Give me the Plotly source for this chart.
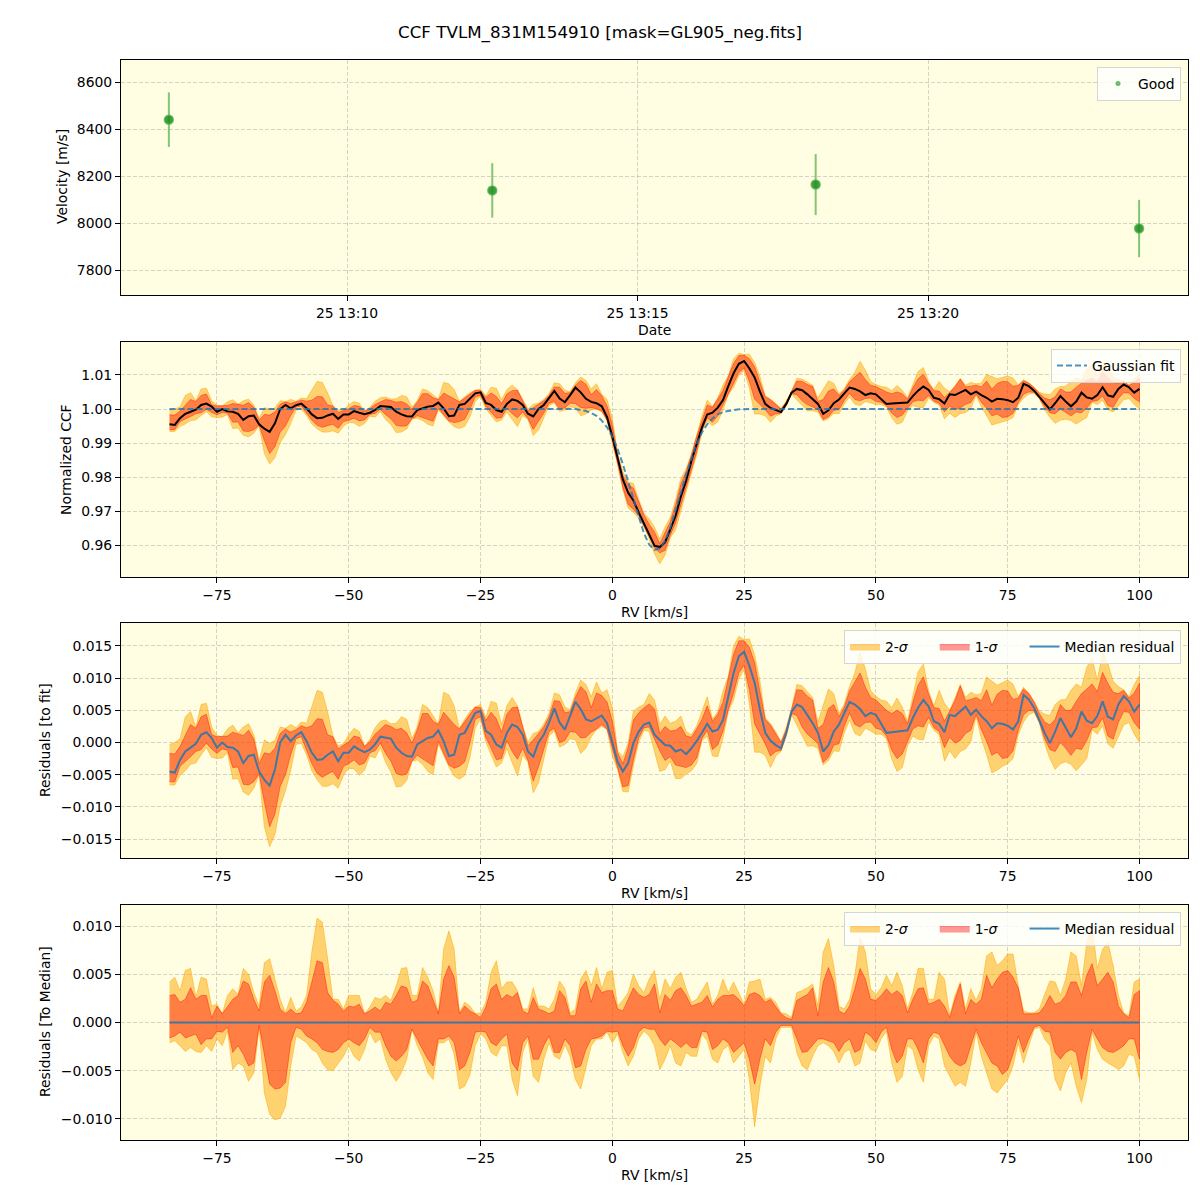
import plotly.graph_objects as go

# ---------------- data ----------------
obs_times = ["2023-11-25 13:06:56", "2023-11-25 13:12:30", "2023-11-25 13:18:04", "2023-11-25 13:23:38"]
obs_velocity = [8440, 8139, 8164, 7977]
obs_velocity_err = [116, 116, 130, 122]

rv_kms = list(range(-84, 101))

# Gaussian fit (normalized CCF)
gauss_fit = [1.0] * 78 + [
    0.9997, 0.9994, 0.9988, 0.9980, 0.9966, 0.9946, 0.9919, 0.9882, 0.9838, 0.9786,
    0.9732, 0.9679, 0.9634, 0.9601, 0.9586, 0.9590, 0.9612, 0.9651, 0.9700, 0.9754,
    0.9807, 0.9856, 0.9898, 0.9931, 0.9955, 0.9972, 0.9984, 0.9991, 0.9995, 0.9997,
    0.9999] + [1.0] * 76

# median residual to the fit (x 1e-3)
median_resid = [
    -4.5, -4.7, -2.7, -1.4, -0.8, -0.2, 1.2, 1.6, 0.7, -0.8,
    0.0, -0.7, -0.8, -1.4, -3.2, -2.1, -1.9, -4.5, -5.8, -6.7,
    -4.2, 0.0, 1.2, 0.2, 1.1, 1.6, 0.2, -1.6, -2.7, -2.6,
    -1.9, -1.4, -2.9, -1.6, -1.6, -0.6, -1.1, -1.5, -1.1, -0.3,
    0.9, 0.7, 0.6, -0.8, -1.6, -2.1, -2.2, -0.3, 0.2, 0.7,
    0.9, 1.9, 0.2, -2.1, -1.9, 1.2, 1.5, 3.1, 4.6, 4.9,
    1.8, 1.2, -0.3, -0.8, 1.5, 2.8, 2.4, 1.2, -1.4, -2.2,
    0.0, 1.2, 3.1, 5.3, 3.1, 2.0, 4.1, 6.3, 5.2, 3.6,
    3.3, 3.7, 4.2, 3.0, 0.0, -3.0, -4.5, -3.2, -0.1, 1.7,
    2.8, 3.1, 1.2, 0.4, -0.4, -0.5, -1.4, -1.1, -1.8, -0.9,
    0.2, 1.5, 2.9, 1.7, 2.0, 3.5, 7.2, 10.8, 13.4, 14.1,
    11.9, 9.3, 5.1, 1.5, 0.3, -0.4, -0.9, 1.5, 4.8, 5.9,
    5.5, 4.3, 3.0, 1.5, -1.4, -0.4, 1.7, 2.8, 4.6, 6.3,
    5.9, 5.2, 4.1, 4.6, 4.3, 3.0, 1.5, 1.6, 1.7, 1.7,
    1.9, 3.8, 5.4, 6.6, 5.6, 3.3, 2.9, 1.6, 4.3, 4.1,
    4.8, 5.6, 4.3, 5.1, 4.1, 3.3, 2.2, 3.0, 2.9, 2.6,
    2.0, 3.3, 7.4, 6.7, 5.4, 3.5, 1.5, -0.1, 1.7, 3.8,
    2.2, 0.8, 2.2, 4.8, 3.4, 3.0, 4.1, 6.4, 4.0, 3.6,
    5.9, 7.2, 6.4, 4.8, 5.9]

# percentile offsets relative to the median (x 1e-3)
upper_2sig = [
    4.2, 4.7, 3.3, 5.4, 5.6, 2.6, 4.7, 4.5, 1.7, 1.9,
    0.9, 2.8, 3.5, 2.9, 5.6, 5.0, 3.1, 1.7, 6.2, 6.6,
    4.5, 2.4, 1.0, 2.6, 1.2, 1.6, 2.8, 7.3, 10.8, 10.4,
    6.6, 2.4, 2.4, 1.4, 2.8, 2.8, 2.8, 0.9, 1.6, 2.6,
    2.4, 2.8, 2.3, 3.8, 5.6, 5.7, 2.8, 2.8, 5.7, 4.7,
    3.3, 1.0, 7.6, 9.5, 7.6, 1.0, 2.1, 1.7, 0.9, 1.0,
    2.1, 5.2, 6.4, 3.5, 4.2, 4.2, 3.3, 1.4, 1.4, 3.6,
    1.7, 1.7, 1.4, 2.4, 4.3, 3.5, 1.0, 1.4, 4.5, 5.4,
    3.8, 5.7, 3.5, 5.2, 5.4, 1.7, 2.3, 3.1, 5.0, 3.8,
    3.1, 4.5, 5.4, 2.4, 4.5, 3.5, 4.7, 5.2, 3.5, 2.1,
    2.4, 3.3, 4.2, 1.9, 2.8, 4.5, 3.1, 4.2, 3.1, 1.9,
    4.2, 4.3, 4.5, 2.4, 2.6, 2.1, 1.0, 0.9, 0.5, 3.1,
    3.3, 3.6, 4.0, 1.7, 7.3, 8.7, 5.9, 1.7, 1.4, 2.4,
    4.9, 8.8, 7.3, 3.5, 2.9, 3.6, 4.9, 3.8, 5.2, 3.8,
    1.4, 3.1, 5.6, 5.6, 2.4, 2.4, 5.2, 4.5, 0.7, 2.8,
    4.2, 1.4, 3.5, 2.3, 3.5, 6.9, 7.3, 5.9, 6.4, 7.1,
    7.1, 3.8, 1.2, 1.0, 1.0, 1.4, 2.9, 4.3, 4.2, 2.8,
    4.5, 7.3, 6.9, 3.8, 8.3, 10.1, 5.6, 7.6, 8.3, 5.9,
    2.8, 1.0, 0.7, 4.2, 4.5]

upper_1sig = [
    2.8, 2.9, 2.1, 2.4, 3.6, 2.4, 2.8, 2.8, 0.5, 1.7,
    0.9, 1.7, 2.4, 2.8, 4.3, 4.0, 2.4, 1.2, 4.2, 4.9,
    3.3, 1.4, 0.9, 1.4, 0.9, 1.0, 2.1, 4.2, 6.4, 6.2,
    3.1, 2.3, 1.9, 1.2, 1.7, 1.6, 1.9, 0.9, 1.2, 1.6,
    1.2, 2.1, 1.9, 2.8, 3.8, 3.6, 2.1, 2.3, 4.3, 3.8,
    2.4, 0.9, 4.5, 5.9, 4.7, 0.9, 1.7, 1.2, 0.9, 0.5,
    1.6, 3.5, 4.0, 2.4, 2.9, 2.6, 3.1, 1.2, 0.9, 2.6,
    1.4, 1.2, 0.9, 1.2, 3.3, 2.6, 0.7, 0.7, 3.5, 4.3,
    2.1, 4.0, 3.1, 3.3, 3.3, 1.4, 1.2, 2.4, 3.6, 2.9,
    2.6, 2.9, 4.0, 1.0, 2.9, 2.3, 3.3, 3.6, 2.8, 1.7,
    1.9, 2.1, 2.8, 1.6, 2.4, 2.8, 2.8, 2.9, 2.4, 1.7,
    2.9, 3.1, 2.8, 2.1, 2.4, 1.7, 0.9, 0.5, 0.3, 2.3,
    2.6, 2.9, 3.6, 0.7, 4.2, 5.7, 4.2, 1.2, 0.9, 1.7,
    3.5, 5.6, 4.5, 2.4, 2.3, 2.8, 3.5, 2.9, 3.3, 2.8,
    1.0, 2.4, 3.5, 3.6, 1.9, 2.1, 2.4, 1.7, 0.5, 2.4,
    4.0, 0.9, 2.4, 1.9, 2.4, 4.9, 3.6, 4.5, 5.2, 5.4,
    4.7, 3.6, 0.9, 0.9, 0.9, 1.0, 1.7, 2.8, 1.9, 2.1,
    2.8, 4.2, 4.2, 2.8, 4.9, 6.1, 3.8, 4.5, 5.2, 4.2,
    1.7, 0.9, 0.5, 2.9, 3.3]

lower_1sig = [
    -1.6, -1.4, -1.0, -1.6, -1.4, -1.2, -2.3, -1.7, -1.7, -0.9,
    -1.0, -0.5, -3.1, -2.4, -3.3, -4.5, -4.2, -0.3, -3.5, -6.4,
    -6.9, -6.8, -6.2, -2.1, -0.5, -0.7, -1.4, -1.7, -2.1, -2.8,
    -3.0, -3.1, -2.8, -2.1, -1.7, -2.1, -2.4, -1.7, -0.5, -1.0,
    -1.0, -2.4, -3.5, -4.0, -3.5, -2.8, -0.7, -1.7, -2.8, -3.8,
    -4.5, -1.7, -1.7, -1.4, -2.1, -4.9, -4.5, -3.1, -1.0, -0.9,
    -1.0, -2.1, -2.4, -1.7, -1.2, -4.2, -5.0, -2.1, -1.4, -3.8,
    -3.8, -2.4, -1.4, -3.1, -3.1, -1.7, -2.4, -4.7, -4.5, -2.8,
    -1.7, -1.6, -1.4, -0.9, -1.0, -0.9, -2.4, -3.5, -2.6, -1.0,
    -0.5, -0.7, -0.7, -1.7, -2.4, -1.7, -2.1, -2.6, -2.1, -2.6,
    -2.6, -0.9, -1.0, -2.8, -2.4, -1.7, -2.1, -3.1, -2.6, -2.1,
    -3.8, -6.4, -3.8, -1.7, -2.4, -1.0, -0.3, -0.3, -0.3, -1.7,
    -3.1, -3.0, -2.4, -1.7, -1.7, -1.9, -2.1, -3.0, -2.1, -1.7,
    -3.1, -2.8, -1.0, -1.4, -2.1, -1.0, -0.5, -2.8, -4.2, -3.5,
    -1.7, -1.7, -2.8, -4.2, -1.7, -1.0, -1.2, -2.4, -3.5, -4.2,
    -4.5, -4.2, -2.4, -0.7, -2.1, -3.1, -4.2, -4.5, -5.4, -4.9,
    -3.3, -1.4, -3.1, -1.7, -0.5, -0.3, -0.9, -1.0, -3.1, -3.8,
    -3.1, -2.8, -3.1, -5.9, -3.1, -0.7, -1.7, -2.6, -3.0, -3.1,
    -2.8, -2.4, -1.7, -1.7, -3.8]

lower_2sig = [
    -2.1, -1.9, -2.4, -3.0, -2.6, -3.0, -3.1, -2.4, -3.0, -1.7,
    -2.4, -0.9, -4.9, -4.2, -4.5, -6.1, -5.2, -0.5, -7.3, -9.5,
    -10.1, -9.9, -8.7, -4.5, -1.4, -1.7, -2.1, -2.8, -3.1, -4.2,
    -4.9, -5.0, -4.2, -3.5, -2.4, -3.5, -4.0, -2.8, -1.0, -2.1,
    -1.7, -3.8, -5.2, -6.1, -5.2, -3.8, -0.7, -2.4, -3.6, -5.2,
    -5.9, -2.1, -2.1, -1.7, -3.3, -6.9, -6.6, -5.4, -2.4, -1.2,
    -1.7, -3.1, -3.5, -2.4, -2.4, -5.9, -7.6, -3.1, -1.7, -5.6,
    -6.2, -3.8, -2.1, -3.5, -3.8, -2.3, -3.5, -5.9, -6.9, -4.5,
    -2.4, -1.7, -1.7, -1.0, -2.1, -1.2, -3.1, -4.5, -3.5, -1.7,
    -0.9, -1.4, -2.4, -4.9, -3.8, -2.4, -4.2, -4.5, -3.1, -3.5,
    -3.5, -1.2, -1.9, -3.8, -4.2, -2.8, -2.4, -4.2, -3.5, -2.8,
    -5.9, -10.8, -6.6, -3.5, -4.2, -1.7, -0.5, -0.5, -0.5, -3.1,
    -4.5, -4.9, -3.5, -2.4, -2.1, -2.4, -3.0, -4.2, -3.1, -2.8,
    -4.5, -4.2, -1.9, -2.8, -3.0, -1.7, -0.9, -4.2, -6.2, -5.6,
    -2.4, -2.8, -4.9, -6.2, -2.4, -1.4, -1.7, -4.5, -5.6, -6.6,
    -6.2, -6.6, -4.2, -1.0, -3.5, -5.2, -6.9, -7.3, -6.6, -5.9,
    -4.5, -2.1, -4.2, -2.4, -0.7, -0.5, -1.7, -2.4, -5.9, -7.1,
    -5.2, -4.2, -6.6, -8.3, -5.9, -1.0, -2.8, -3.8, -4.2, -4.5,
    -4.9, -4.5, -3.3, -3.5, -5.9]

rv_ticks = [-75, -50, -25, 0, 25, 50, 75, 100]

# ---------------- derived series ----------------
S = 1e-3
med = [m * S for m in median_resid]
p2hi = [m * S + o * S for m, o in zip(median_resid, upper_2sig)]
p1hi = [m * S + o * S for m, o in zip(median_resid, upper_1sig)]
p1lo = [m * S + o * S for m, o in zip(median_resid, lower_1sig)]
p2lo = [m * S + o * S for m, o in zip(median_resid, lower_2sig)]
ccf_med = [g + m for g, m in zip(gauss_fit, med)]

FONT = "DejaVu Sans"
FS = 13.9
C2 = "rgba(255,165,0,0.5)"
C1 = "rgba(255,0,0,0.4)"
BLUE = "rgba(31,119,180,0.85)"
BG = "#FFFEE2"
PAD = "\u00a0" * 5

# page offset of the plot inside the browser (body margin)
OFF = 8
W = 1192.0


def px_x(X):
    return (X - OFF) / W


def px_y(Y):
    return 1 - (Y - OFF) / W


def minus(v, fmt):
    return fmt.format(v).replace("-", "\u2212")


fig = go.Figure()


def band(xa, ya, lo, hi, color, name, legend, show):
    fig.add_trace(go.Scatter(
        x=rv_kms + rv_kms[::-1], y=hi + lo[::-1], fill="toself", fillcolor=color,
        line=dict(color=color, width=1), mode="lines", name=name,
        xaxis=xa, yaxis=ya, legend=legend, showlegend=show, hoverinfo="skip"))


# Panel 1: velocities
fig.add_trace(go.Scatter(
    x=obs_times, y=obs_velocity, mode="markers", name="Good", showlegend=False,
    marker=dict(color="rgba(30,140,30,0.85)", size=9, line=dict(color="rgba(80,180,80,0.7)", width=1.5)),
    error_y=dict(type="data", array=obs_velocity_err, color="rgba(44,160,44,0.6)", thickness=2, width=0),
    xaxis="x", yaxis="y", legend="legend"))
# legend entry with the small marker used in the reference legend
fig.add_trace(go.Scatter(
    x=[None], y=[None], mode="markers", name="Good", showlegend=True,
    marker=dict(color="rgba(44,160,44,0.7)", size=5),
    xaxis="x", yaxis="y", legend="legend"))

# Panel 2: CCF
band("x2", "y2", [g + v for g, v in zip(gauss_fit, p2lo)], [g + v for g, v in zip(gauss_fit, p2hi)], C2, "2-σ", "legend2", False)
band("x2", "y2", [g + v for g, v in zip(gauss_fit, p1lo)], [g + v for g, v in zip(gauss_fit, p1hi)], C1, "1-σ", "legend2", False)
fig.add_trace(go.Scatter(x=rv_kms, y=ccf_med, mode="lines", line=dict(color="black", width=2),
                         xaxis="x2", yaxis="y2", showlegend=False, legend="legend2"))
fig.add_trace(go.Scatter(x=rv_kms, y=gauss_fit, mode="lines", name="Gaussian fit", showlegend=True,
                         line=dict(color="rgba(31,119,180,0.8)", width=2, dash="6px,3px"),
                         xaxis="x2", yaxis="y2", legend="legend2"))

# Panel 3: residuals to fit
band("x3", "y3", p2lo, p2hi, C2, "2-<i>σ</i>" + PAD, "legend3", True)
band("x3", "y3", p1lo, p1hi, C1, "1-<i>σ</i>" + PAD, "legend3", True)
fig.add_trace(go.Scatter(x=rv_kms, y=med, mode="lines", name="Median residual",
                         line=dict(color=BLUE, width=2), xaxis="x3", yaxis="y3", legend="legend3"))

# Panel 4: residuals to median
band("x4", "y4", [v * S for v in lower_2sig], [v * S for v in upper_2sig], C2, "2-<i>σ</i>" + PAD, "legend4", True)
band("x4", "y4", [v * S for v in lower_1sig], [v * S for v in upper_1sig], C1, "1-<i>σ</i>" + PAD, "legend4", True)
fig.add_trace(go.Scatter(x=rv_kms, y=[0.0 * m for m in median_resid], mode="lines", name="Median residual",
                         line=dict(color=BLUE, width=2), xaxis="x4", yaxis="y4", legend="legend4"))


def axstyle(**kw):
    d = dict(showline=True, linecolor="black", linewidth=1, mirror=True, ticks="outside",
             ticklen=5, tickcolor="black", showgrid=True, gridcolor="rgba(175,175,175,0.55)",
             griddash="4px,2px", gridwidth=1, zeroline=False, automargin=False,
             tickfont=dict(family=FONT, size=FS, color="black"))
    d.update(kw)
    return d


XD = [px_x(121), px_x(1188)]


def ydom(top, bot):
    return [px_y(bot), px_y(top)]


rv_range = [-93.2, 109.2]
rv_tt = [minus(v, "{:d}") for v in rv_ticks]

y2v = [0.96, 0.97, 0.98, 0.99, 1.00, 1.01]
y3v = [-0.015, -0.010, -0.005, 0.0, 0.005, 0.010, 0.015]
y4v = [-0.010, -0.005, 0.0, 0.005, 0.010]
date_ticks = ["2023-11-25 13:10", "2023-11-25 13:15", "2023-11-25 13:20"]

fig.update_layout(
    width=int(W), height=int(W), margin=dict(l=0, r=0, t=0, b=0),
    paper_bgcolor="white", plot_bgcolor=BG, showlegend=True,
    font=dict(family=FONT, size=FS, color="black"),
    title=dict(text="CCF TVLM_831M154910 [mask=GL905_neg.fits]", x=px_x(600), xanchor="center",
               y=px_y(32), yanchor="middle", font=dict(family=FONT, size=16.7, color="black")),
    xaxis=axstyle(domain=XD, anchor="y", type="date",
                  range=["2023-11-25 13:06:06.6", "2023-11-25 13:24:28.5"],
                  tickvals=date_ticks, ticktext=["25 13:10", "25 13:15", "25 13:20"]),
    yaxis=axstyle(domain=ydom(60, 295), anchor="x", range=[7694, 8694],
                  tickvals=[7800, 8000, 8200, 8400, 8600]),
    xaxis2=axstyle(domain=XD, anchor="y2", range=rv_range, tickvals=rv_ticks, ticktext=rv_tt),
    yaxis2=axstyle(domain=ydom(342, 577), anchor="x2", range=[0.9506, 1.0197],
                   tickvals=y2v, ticktext=["{:.2f}".format(v) for v in y2v]),
    xaxis3=axstyle(domain=XD, anchor="y3", range=rv_range, tickvals=rv_ticks, ticktext=rv_tt),
    yaxis3=axstyle(domain=ydom(623, 858), anchor="x3", range=[-0.01795, 0.01857],
                   tickvals=y3v, ticktext=[minus(v, "{:.3f}") for v in y3v]),
    xaxis4=axstyle(domain=XD, anchor="y4", range=rv_range, tickvals=rv_ticks, ticktext=rv_tt),
    yaxis4=axstyle(domain=ydom(905, 1140), anchor="x4", range=[-0.01218, 0.01218],
                   tickvals=y4v, ticktext=[minus(v, "{:.3f}") for v in y4v]),
)

legbase = dict(xanchor="right", yanchor="top", bgcolor="rgba(255,255,255,0.8)",
               bordercolor="#d5d5d5", borderwidth=1, font=dict(family=FONT, size=FS, color="black"),
               itemwidth=30)
fig.update_layout(
    legend=dict(legbase, x=px_x(1181), y=px_y(67)),
    legend2=dict(legbase, x=px_x(1181), y=px_y(349)),
    legend3=dict(legbase, x=px_x(1181), y=px_y(630), orientation="h"),
    legend4=dict(legbase, x=px_x(1181), y=px_y(912), orientation="h"),
)


def label(text, x, y, rot=0):
    fig.add_annotation(text=text, x=px_x(x), y=px_y(y), xref="paper", yref="paper",
                       showarrow=False, textangle=rot, xanchor="center", yanchor="middle",
                       font=dict(family=FONT, size=FS, color="black"))


label("Velocity [m/s]", 62, 177, -90)
label("Date", 654, 330)
label("Normalized CCF", 66, 460, -90)
label("RV [km/s]", 654, 612)
label("Residuals [to fit]", 45, 740, -90)
label("RV [km/s]", 654, 893)
label("Residuals [To Median]", 45, 1022, -90)
label("RV [km/s]", 654, 1175)

fig.write_html("out.html")
